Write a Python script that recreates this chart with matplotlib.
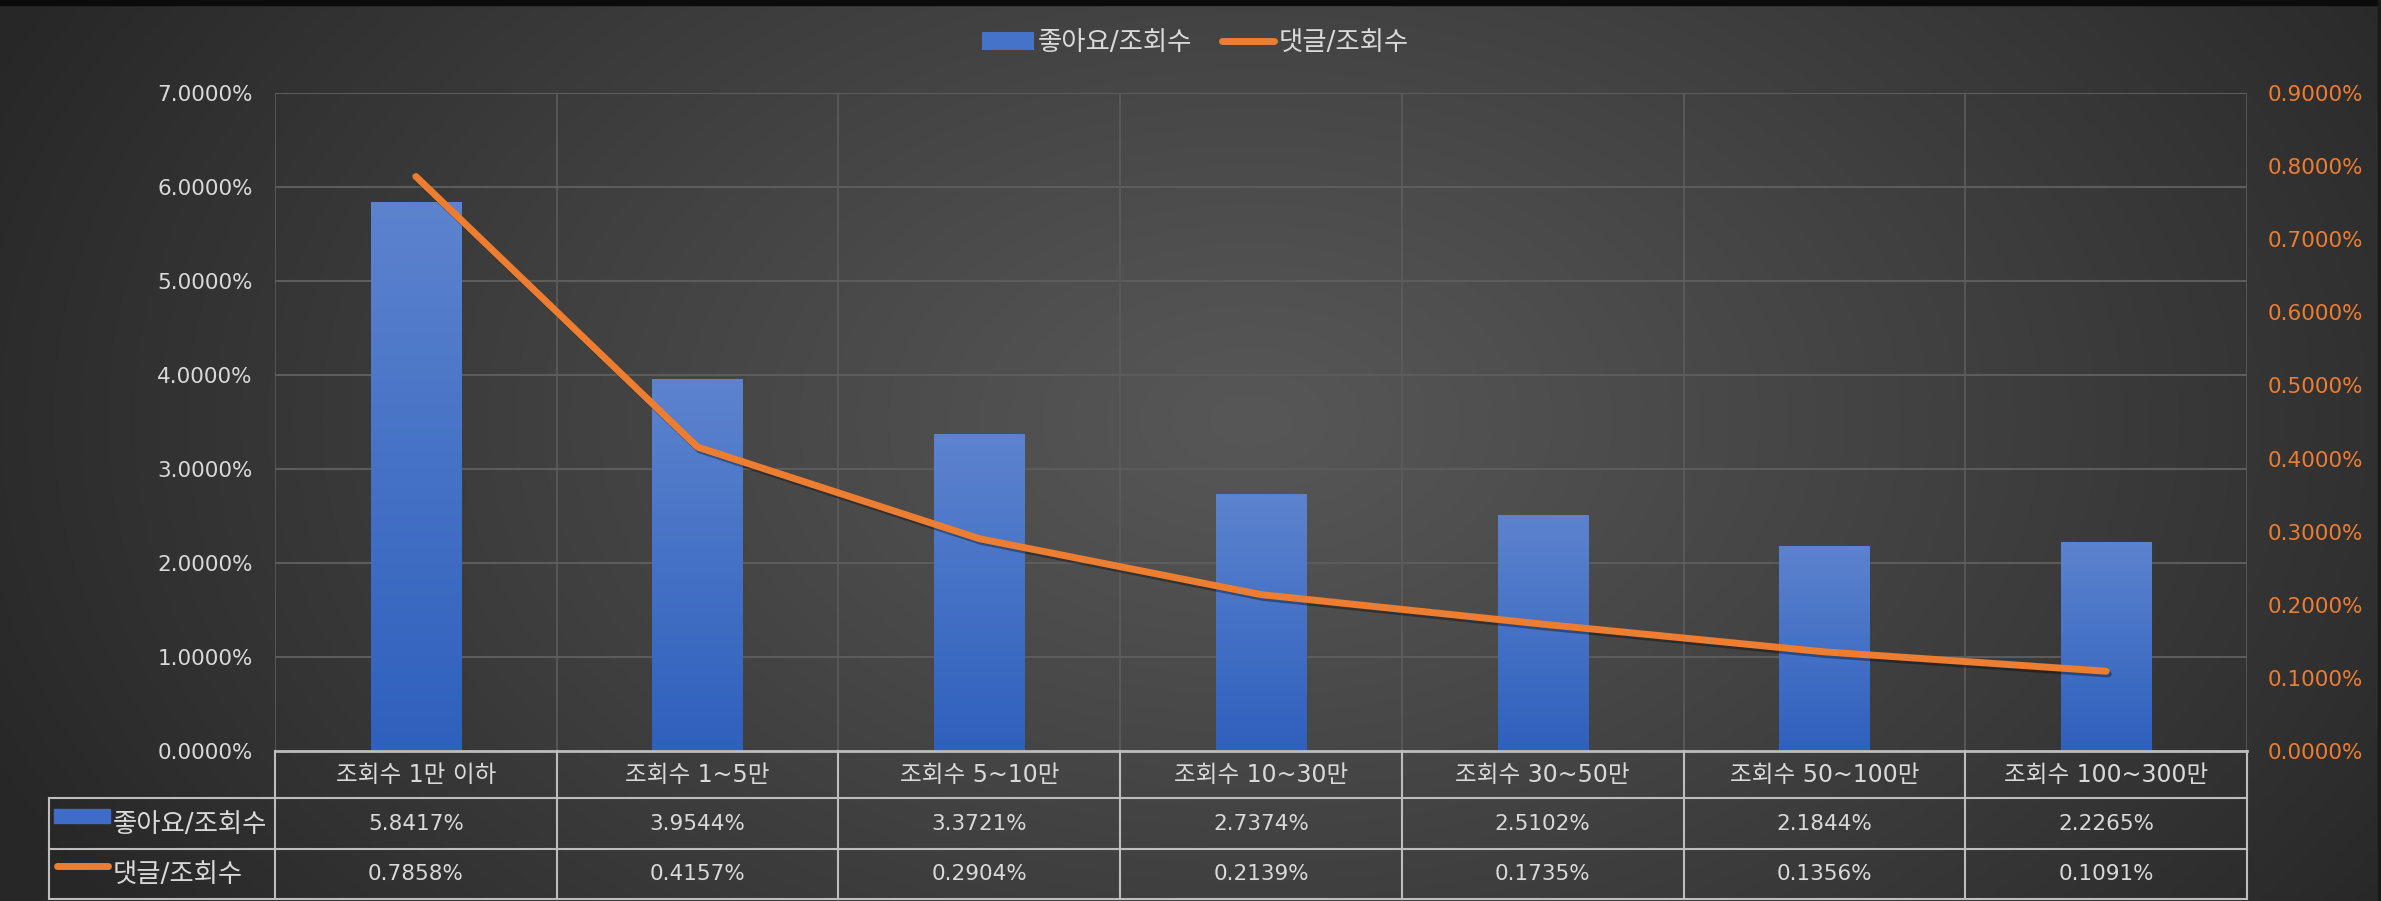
import numpy as np
import matplotlib.pyplot as plt
from matplotlib.patches import Rectangle, Patch
from matplotlib.lines import Line2D
from matplotlib.transforms import blended_transform_factory
import matplotlib.patheffects as pe

plt.rcParams['font.family'] = ['DejaVu Sans', 'Noto Sans CJK KR']

# 데이터
categories = ['조회수 1만 이하', '조회수 1~5만', '조회수 5~10만', '조회수 10~30만',
              '조회수 30~50만', '조회수 50~100만', '조회수 100~300만']
likes_ratio = [5.8417, 3.9544, 3.3721, 2.7374, 2.5102, 2.1844, 2.2265]
comments_ratio = [0.7858, 0.4157, 0.2904, 0.2139, 0.1735, 0.1356, 0.1091]
left_ticks = [0, 1, 2, 3, 4, 5, 6, 7]
right_ticks = [0, 0.1, 0.2, 0.3, 0.4, 0.5, 0.6, 0.7, 0.8, 0.9]
series_names = ['좋아요/조회수', '댓글/조회수']

W, H = 2381, 901
txt_color = '#D9D9D9'
orange = '#ED7D31'
grid_color = '#5C5C5C'
table_color = '#BDBDBD'
fs = 15.5      # 숫자
fs_cat = 17    # 구간 이름
fs_kr = 19     # 계열 이름

fig = plt.figure(figsize=(W / 100, H / 100), dpi=100)

# 배경 (방사형 그라데이션)
bg = fig.add_axes([0, 0, 1, 1], zorder=-10)
yy, xx = np.mgrid[0:H, 0:W]
r = np.sqrt(((xx - 1250) / (W * 0.58)) ** 2 + ((yy - 420) / (H * 1.0)) ** 2)
r = np.clip(r, 0, 1)
c_center = np.array([0x57, 0x57, 0x57]) / 255
c_edge = np.array([0x27, 0x27, 0x27]) / 255
img = c_center + (c_edge - c_center) * (r[..., None] ** 1.1)
bg.imshow(img, aspect='auto', extent=[0, W, H, 0])
bg.add_patch(Rectangle((0, 0), W, 5, color='#0B0B0B'))
bg.add_patch(Rectangle((W - 3, 0), 3, H, color='#1A1A1A'))
bg.set_xlim(0, W)
bg.set_ylim(H, 0)
bg.axis('off')

# 메인 축
L, R, T, B = 275, 2247, 93, 751
ax = fig.add_axes([L / W, 1 - B / H, (R - L) / W, (B - T) / H])
ax.patch.set_alpha(0)
x = np.arange(len(categories))

bars = ax.bar(x, likes_ratio, width=0.32, color='none', zorder=3)
grad = np.linspace(0, 1, 256)[:, None]
top_c = np.array([92, 131, 206]) / 255
bot_c = np.array([46, 96, 189]) / 255
gimg = (top_c + (bot_c - top_c) * grad[..., None]) * np.ones((256, 2, 3))
for b in bars:
    x0, w, h = b.get_x(), b.get_width(), b.get_height()
    im = ax.imshow(gimg, extent=[x0, x0 + w, 0, h], aspect='auto', zorder=3)
    im.set_clip_path(b)

ax.set_xlim(-0.5, len(categories) - 0.5)
ax.set_ylim(0, 7)
ax.set_yticks(left_ticks)
ax.set_yticklabels([f'{v:.4f}%' for v in left_ticks])
ax.tick_params(axis='y', length=0, pad=16, labelsize=fs, colors=txt_color)
ax.set_xticks([])
for v in left_ticks[1:]:
    ax.axhline(v, color=grid_color, lw=1.5, zorder=1)
for k in range(len(categories) + 1):
    ax.axvline(k - 0.5, color=grid_color, lw=1.2, zorder=1)
for s in ax.spines.values():
    s.set_visible(False)

ax2 = ax.twinx()
ax2.plot(x, comments_ratio, color=orange, lw=5, solid_capstyle='round', zorder=4,
         path_effects=[pe.SimpleLineShadow(offset=(1.5, -2), alpha=0.35, shadow_color='black'),
                       pe.Normal()])
ax2.set_ylim(0, 0.9)
ax2.set_yticks(right_ticks)
ax2.set_yticklabels([f'{v:.4f}%' for v in right_ticks])
ax2.tick_params(axis='y', length=0, pad=15, labelsize=fs, colors=orange)
for s in ax2.spines.values():
    s.set_visible(False)

# 데이터 테이블
tr = blended_transform_factory(ax.transData, fig.transFigure)
cat_px = (R - L) / len(categories)
x_tab_left = -0.5 - (L - 49) / cat_px
x_right = len(categories) - 0.5
row_y = [751, 798, 849, 899]
fy = lambda p: 1 - p / H

def hline(x0, x1, ypx, lw=1.5):
    fig.add_artist(Line2D([x0, x1], [fy(ypx), fy(ypx)], transform=tr,
                          color=table_color, lw=lw))

def vline(xv, y0, y1, lw=1.5):
    fig.add_artist(Line2D([xv, xv], [fy(y0), fy(y1)], transform=tr,
                          color=table_color, lw=lw))

hline(-0.5, x_right, row_y[0], lw=2)
for ypx in row_y[1:]:
    hline(x_tab_left, x_right, ypx)
for k in range(len(categories) + 1):
    vline(k - 0.5, row_y[0], row_y[3])
vline(x_tab_left, row_y[1], row_y[3])

for i, cat in enumerate(categories):
    fig.text(i, fy((row_y[0] + row_y[1]) / 2), cat, transform=tr, ha='center',
             va='center', fontsize=fs_cat, color=txt_color)
    fig.text(i, fy((row_y[1] + row_y[2]) / 2), f'{likes_ratio[i]:.4f}%', transform=tr,
             ha='center', va='center', fontsize=fs, color=txt_color)
    fig.text(i, fy((row_y[2] + row_y[3]) / 2), f'{comments_ratio[i]:.4f}%', transform=tr,
             ha='center', va='center', fontsize=fs, color=txt_color)

# 테이블 범례 키
fig.add_artist(Rectangle((54 / W, fy(823)), 56 / W, 14 / H, transform=fig.transFigure,
                         color='#3F6CC6'))
fig.text(113 / W, fy(825), series_names[0], ha='left', va='center', fontsize=fs_kr, color=txt_color)
fig.add_artist(Line2D([57 / W, 108 / W], [fy(866), fy(866)], transform=fig.transFigure,
                      color=orange, lw=5, solid_capstyle='round'))
fig.text(113 / W, fy(875), series_names[1], ha='left', va='center', fontsize=fs_kr, color=txt_color)

# 범례
handles = [Patch(facecolor='#4573C9', edgecolor='none'),
           Line2D([0], [0], color=orange, lw=5, solid_capstyle='round')]
fig.legend(handles, series_names, loc='center', bbox_to_anchor=(1195 / W, fy(43)),
           ncol=2, frameon=False, fontsize=fs_kr, labelcolor=txt_color,
           handlelength=2.0, handletextpad=0.15, columnspacing=1.1)

fig.savefig('out.png', dpi=100)
